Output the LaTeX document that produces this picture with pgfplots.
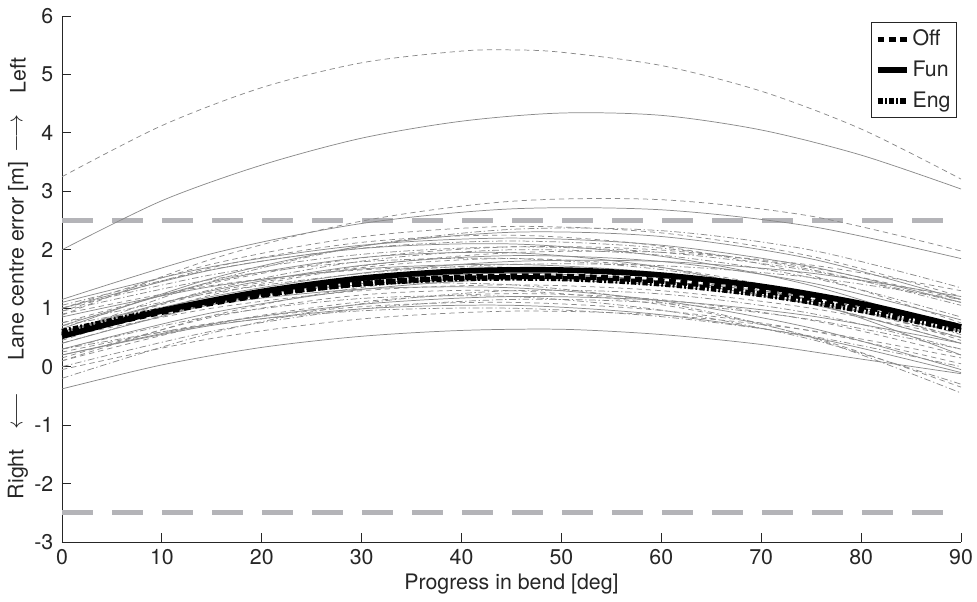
\documentclass[border=0pt]{standalone}
\usepackage{pgfplots}
\pgfplotsset{compat=1.18}
\usepackage{fontspec}
\setmainfont{TeX Gyre Heros}
\definecolor{axcol}{RGB}{38,38,38}
\definecolor{thr}{RGB}{180,180,184}
\definecolor{cg}{RGB}{138,138,138}
\newcommand{\fs}{\fontsize{16}{19}\selectfont}
\tikzset{
  gs/.style={color=cg, line width=0.55pt, smooth},
  gd/.style={gs, dash pattern=on 4pt off 3pt},
  gdd/.style={gs, dash pattern=on 5pt off 2pt on 1pt off 2pt},
  offst/.style={black, line width=4.2pt, dash pattern=on 5pt off 3.5pt, smooth},
  funst/.style={black, line width=4.2pt, smooth},
  engst/.style={black, line width=4.2pt, dash pattern=on 4pt off 1.6pt on 1.4pt off 1.6pt, smooth},
}
\begin{document}
\fs
\begin{tikzpicture}
\path[use as bounding box] (-46.5pt,-44.25pt) rectangle (686.25pt,406.5pt);
\begin{axis}[
  at={(0pt,0pt)}, anchor=south west,
  scale only axis, width=674.25pt, height=394.5pt,
  xmin=0, xmax=90, ymin=-3, ymax=6,
  xtick={0,10,...,90}, ytick={-3,-2,...,6},
  axis lines*=left,
  axis line style={axcol, line width=0.6pt, -},
  tick align=inside,
  major tick length=6.75pt,
  tick style={axcol, line width=0.6pt},
  ticklabel style={font=\fs, text=axcol},
  yticklabel style={xshift=-1pt},
  /pgf/number format/assume math mode=true,
  xlabel={Progress in bend [deg]},
  xlabel style={font=\fs, text=axcol, yshift=4pt},
  clip=false,
  legend style={at={(0.9955,0.9886)}, anchor=north east, draw=axcol, line width=0.6pt, fill=white,
    font=\fs, text=axcol, row sep=5pt, inner xsep=2.5pt, inner ysep=3.5pt},
  legend cell align=left,
  legend image code/.code={\draw[#1] (0cm,0cm) -- (0.78cm,0cm);},
]
% thresholds
\addplot[thr, line width=3.9pt, dash pattern=on 23.5pt off 14pt, forget plot] coordinates {(0,2.5) (90,2.5)};
\addplot[thr, line width=3.9pt, dash pattern=on 23.5pt off 14pt, forget plot] coordinates {(0,-2.5) (90,-2.5)};

% ---- solid gray (Fun) ----
\addplot[gs, forget plot] coordinates {(0,2.0) (10,2.84) (20,3.45) (30,3.91) (40,4.20) (50,4.34) (60,4.30) (70,4.05) (80,3.62) (90,3.04)};
\addplot[gs, forget plot] coordinates {(0,-0.38) (10,0.03) (20,0.33) (30,0.52) (40,0.62) (50,0.64) (60,0.55) (70,0.38) (80,0.13) (90,-0.12)};
\addplot[gs, forget plot] coordinates {(0,1.15) (15,1.934) (30,2.45) (45,2.70) (60,2.684) (75,2.40) (90,1.85)};
\addplot[gs, forget plot] coordinates {(0,1.10) (15,1.711) (30,2.078) (45,2.20) (60,2.078) (75,1.711) (90,1.10)};
\addplot[gs, forget plot] coordinates {(0,1.00) (15,1.656) (30,2.022) (45,2.10) (60,1.889) (75,1.389) (90,0.60)};
\addplot[gs, forget plot] coordinates {(0,0.60) (15,1.300) (30,1.733) (45,1.90) (60,1.800) (75,1.433) (90,0.80)};
\addplot[gs, forget plot] coordinates {(0,0.85) (15,1.372) (30,1.672) (45,1.75) (60,1.606) (75,1.239) (90,0.65)};
\addplot[gs, forget plot] coordinates {(0,0.40) (15,1.067) (30,1.467) (45,1.60) (60,1.467) (75,1.067) (90,0.40)};
\addplot[gs, forget plot] coordinates {(0,0.30) (15,0.922) (30,1.322) (45,1.50) (60,1.456) (75,1.189) (90,0.70)};
\addplot[gs, forget plot] coordinates {(0,0.55) (15,1.061) (30,1.328) (45,1.35) (60,1.128) (75,0.661) (90,-0.05)};
\addplot[gs, forget plot] coordinates {(0,0.20) (15,0.733) (30,1.067) (45,1.20) (60,1.133) (75,0.867) (90,0.40)};
\addplot[gs, forget plot] coordinates {(0,0.20) (15,0.706) (30,0.989) (45,1.05) (60,0.889) (75,0.506) (90,-0.10)};
\addplot[gs, forget plot] coordinates {(0,0.65) (15,1.511) (30,2.061) (45,2.30) (60,2.227) (75,1.845) (90,1.15)};
\addplot[gs, forget plot] coordinates {(0,0.60) (15,1.200) (30,1.600) (45,1.80) (60,1.800) (75,1.600) (90,1.20)};
\addplot[gs, forget plot] coordinates {(0,0.70) (15,1.450) (30,1.866) (45,1.95) (60,1.700) (75,1.116) (90,0.20)};

% ---- dashed gray (Off) ----
\addplot[gd, forget plot] coordinates {(0,3.25) (10,4.125) (20,4.775) (30,5.20) (40,5.40) (45,5.42) (50,5.38) (60,5.153) (70,4.714) (80,4.067) (90,3.21)};
\addplot[gd, forget plot] coordinates {(0,0.88) (15,1.841) (30,2.491) (45,2.83) (60,2.857) (75,2.575) (90,1.98)};
\addplot[gd, forget plot] coordinates {(0,1.00) (15,1.755) (30,2.223) (45,2.40) (60,2.289) (75,1.889) (90,1.20)};
\addplot[gd, forget plot] coordinates {(0,0.95) (15,1.695) (30,2.127) (45,2.25) (60,2.061) (75,1.561) (90,0.75)};
\addplot[gd, forget plot] coordinates {(0,0.75) (15,1.428) (30,1.861) (45,2.05) (60,1.995) (75,1.694) (90,1.15)};
\addplot[gd, forget plot] coordinates {(0,0.45) (15,1.228) (30,1.694) (45,1.85) (60,1.694) (75,1.228) (90,0.45)};
\addplot[gd, forget plot] coordinates {(0,0.90) (15,1.389) (30,1.656) (45,1.70) (60,1.522) (75,1.123) (90,0.50)};
\addplot[gd, forget plot] coordinates {(0,0.10) (15,0.872) (30,1.356) (45,1.55) (60,1.456) (75,1.072) (90,0.40)};
\addplot[gd, forget plot] coordinates {(0,0.50) (15,1.000) (30,1.300) (45,1.40) (60,1.300) (75,1.000) (90,0.50)};
\addplot[gd, forget plot] coordinates {(0,0.10) (15,0.728) (30,1.111) (45,1.25) (60,1.145) (75,0.794) (90,0.20)};
\addplot[gd, forget plot] coordinates {(0,0.25) (15,0.745) (30,1.027) (45,1.10) (60,0.961) (75,0.611) (90,0.05)};
\addplot[gd, forget plot] coordinates {(0,-0.05) (15,0.483) (30,0.817) (45,0.95) (60,0.883) (75,0.617) (90,0.15)};
\addplot[gd, forget plot] coordinates {(0,0.15) (15,0.845) (30,1.227) (45,1.30) (60,1.061) (75,0.511) (90,-0.35)};
\addplot[gd, forget plot] coordinates {(0,0.60) (15,1.273) (30,1.722) (45,1.95) (60,1.956) (75,1.739) (90,1.30)};

% ---- dash-dot gray (Eng) ----
\addplot[gdd, forget plot] coordinates {(0,0.55) (15,1.461) (30,2.061) (45,2.35) (60,2.327) (75,1.995) (90,1.35)};
\addplot[gdd, forget plot] coordinates {(0,1.05) (15,1.661) (30,2.028) (45,2.15) (60,2.028) (75,1.661) (90,1.05)};
\addplot[gdd, forget plot] coordinates {(0,0.55) (15,1.322) (30,1.806) (45,2.00) (60,1.906) (75,1.522) (90,0.85)};
\addplot[gdd, forget plot] coordinates {(0,0.95) (15,1.494) (30,1.795) (45,1.85) (60,1.661) (75,1.228) (90,0.55)};
\addplot[gdd, forget plot] coordinates {(0,0.40) (15,1.084) (30,1.500) (45,1.65) (60,1.534) (75,1.150) (90,0.50)};
\addplot[gdd, forget plot] coordinates {(0,0.70) (15,1.155) (30,1.423) (45,1.50) (60,1.389) (75,1.089) (90,0.60)};
\addplot[gdd, forget plot] coordinates {(0,0.50) (15,1.100) (30,1.400) (45,1.40) (60,1.100) (75,0.500) (90,-0.45)};
\addplot[gdd, forget plot] coordinates {(0,0.30) (15,0.867) (30,1.167) (45,1.20) (60,0.967) (75,0.467) (90,-0.30)};
\addplot[gdd, forget plot] coordinates {(0,0.00) (15,0.606) (30,0.989) (45,1.15) (60,1.089) (75,0.806) (90,0.30)};
\addplot[gdd, forget plot] coordinates {(0,0.75) (15,1.261) (30,1.594) (45,1.75) (60,1.728) (75,1.527) (90,1.15)};
\addplot[gdd, forget plot] coordinates {(0,0.30) (15,0.722) (30,0.956) (45,1.00) (60,0.856) (75,0.522) (90,0.00)};
\addplot[gdd, forget plot] coordinates {(0,1.00) (15,1.573) (30,1.922) (45,2.05) (60,1.956) (75,1.639) (90,1.10)};
\addplot[gdd, forget plot] coordinates {(0,-0.20) (15,0.577) (30,1.078) (45,1.30) (60,1.244) (75,0.911) (90,0.30)};

% ---- means ----
\addplot[engst, forget plot] coordinates {(0,0.60) (10,0.964) (20,1.236) (30,1.418) (40,1.509) (50,1.509) (60,1.418) (70,1.236) (80,0.964) (90,0.62)};
\addplot[offst, forget plot] coordinates {(0,0.55) (10,0.933) (20,1.224) (30,1.423) (40,1.530) (50,1.545) (60,1.467) (70,1.298) (80,1.036) (90,0.683)};
\addplot[funst, forget plot] coordinates {(0,0.52) (10,0.956) (20,1.287) (30,1.514) (40,1.637) (50,1.654) (60,1.567) (70,1.376) (80,1.080) (90,0.679)};

\addlegendimage{offst}
\addlegendentry{Off}
\addlegendimage{funst}
\addlegendentry{Fun}
\addlegendimage{engst}
\addlegendentry{Eng}

% y label pieces
\node[rotate=90, text=axcol, font=\fs] at (axis cs:-4.4,4.98) {Left};
\node[rotate=90, text=axcol, font=\fs] at (axis cs:-4.4,3.99) {$\longrightarrow$};
\node[rotate=90, text=axcol, font=\fs] at (axis cs:-4.4,1.81) {Lane centre error [m]};
\node[rotate=90, text=axcol, font=\fs] at (axis cs:-4.4,-0.76) {$\longleftarrow$};
\node[rotate=90, text=axcol, font=\fs] at (axis cs:-4.4,-1.84) {Right};
\end{axis}
\end{tikzpicture}
\end{document}
